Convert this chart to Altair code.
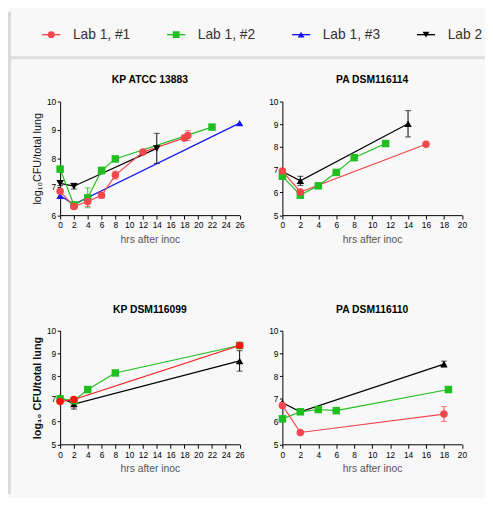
import altair as alt
import pandas as pd

SERIES = ["Lab 1, #1", "Lab 1, #2", "Lab 1, #3", "Lab 2"]
RED = "#f2474d"
RED_BRIGHT = "#ff1414"
GREEN = "#1fbf1f"
BLUE = "#1414ff"
BLACK = "#000000"

# ---- KP ATCC 13883 ----
kpa_r_x = [0, 2, 4, 6, 8, 12, 18, 18.5]
kpa_r_y = [6.84, 6.30, 6.48, 6.70, 7.41, 8.22, 8.72, 8.80]
kpa_r_e = [0.06, 0.05, 0.18, 0.10, 0.14, 0.05, 0.10, 0.17]
kpa_g_x = [0, 2, 4, 6, 8, 22]
kpa_g_y = [7.62, 6.36, 6.61, 7.57, 7.98, 9.10]
kpa_g_e = [0.05, 0.05, 0.35, 0.12, 0.05, 0.0]
kpa_b_x = [0, 2, 26]
kpa_b_y = [6.68, 6.38, 9.24]
kpa_b_e = [0.0, 0.0, 0.0]
kpa_k_x = [0, 2, 14]
kpa_k_y = [7.12, 7.02, 8.35]
kpa_k_e = [0.08, 0.10, 0.53]

# ---- PA DSM116114 ----
pa4_r_x = [0, 2, 16]
pa4_r_y = [6.94, 6.02, 8.12]
pa4_r_e = [0.0, 0.0, 0.0]
pa4_g_x = [0, 2, 4, 6, 8, 11.5]
pa4_g_y = [6.71, 5.88, 6.29, 6.88, 7.53, 8.15]
pa4_g_e = [0.0, 0.0, 0.0, 0.0, 0.0, 0.0]
pa4_k_x = [0, 2, 14]
pa4_k_y = [6.92, 6.51, 9.02]
pa4_k_e = [0.0, 0.2, 0.58]

# ---- KP DSM116099 ----
kp9_g_x = [0, 2, 4, 8, 26]
kp9_g_y = [7.00, 6.92, 7.41, 8.14, 9.35]
kp9_g_e = [0.0, 0.0, 0.0, 0.0, 0.0]
kp9_r_x = [0, 2, 26]
kp9_r_y = [6.88, 6.97, 9.35]
kp9_r_e = [0.0, 0.0, 0.0]
kp9_k_x = [0, 2, 26]
kp9_k_y = [7.07, 6.77, 8.67]
kp9_k_e = [0.0, 0.22, 0.45]

# ---- PA DSM116110 ----
pa0_k_x = [0, 2, 18]
pa0_k_y = [6.83, 6.43, 8.53]
pa0_k_e = [0.0, 0.0, 0.13]
pa0_g_x = [0, 2, 4, 6, 18.5]
pa0_g_y = [6.12, 6.43, 6.53, 6.48, 7.41]
pa0_g_e = [0.0, 0.0, 0.0, 0.0, 0.0]
pa0_r_x = [0, 2, 18]
pa0_r_y = [6.71, 5.52, 6.33]
pa0_r_e = [0.0, 0.0, 0.33]

W = 182.5
H = 115.5


def panel(title, series_data, xmax, ymin, ytitle=None, ytitle_bold=False):
    rows = []
    for name, xs, ys, es, col, shp in series_data:
        for x, y, e in zip(xs, ys, es):
            rows.append(dict(series=name, x=x, y=y, lo=y - e, hi=y + e, e=e))
    df = pd.DataFrame(rows)
    names = [s[0] for s in series_data]
    colors = [s[4] for s in series_data]
    shapes = [s[5] for s in series_data]
    color = alt.Color("series:N", scale=alt.Scale(domain=names, range=colors), legend=None)
    shape = alt.Shape("series:N", scale=alt.Scale(domain=names, range=shapes), legend=None)
    xaxis = alt.Axis(values=list(range(0, xmax + 1, 2)), title="hrs after inoc", grid=False,
                     labelFontSize=8.5, labelColor="#000", titleFontSize=10.5,
                     titleFontWeight="normal", titleColor="#555", tickSize=4,
                     tickColor="#000", domainColor="#000", labelPadding=2,
                     titlePadding=5, labelOverlap=False, labelFlush=False)
    yargs = dict(values=list(range(ymin, 11)), grid=False, labelFontSize=8.5,
                 labelColor="#000", tickSize=3, tickColor="#000", domainColor="#000",
                 labelPadding=1.5, format="d", labelOverlap=False)
    if ytitle:
        yaxis = alt.Axis(title=ytitle, titleFontSize=11,
                         titleFontWeight="bold" if ytitle_bold else "normal",
                         titleColor="#111", titlePadding=4, **yargs)
    else:
        yaxis = alt.Axis(title=None, **yargs)
    xs_ = alt.Scale(domain=[0, xmax], nice=False)
    ys_ = alt.Scale(domain=[ymin, 10], nice=False)
    xenc = alt.X("x:Q", scale=xs_, axis=xaxis)
    base = alt.Chart(df)
    line = base.mark_line(strokeWidth=1.2).encode(
        x=xenc, y=alt.Y("y:Q", scale=ys_, axis=yaxis), color=color)
    err = base.transform_filter("datum.e > 0")
    bar = err.mark_rule(strokeWidth=1).encode(
        x=xenc, y=alt.Y("lo:Q", scale=ys_, axis=yaxis), y2="hi:Q", color=color)
    cap_lo = err.mark_tick(orient="horizontal", size=6, thickness=1).encode(
        x=xenc, y=alt.Y("lo:Q", scale=ys_, axis=yaxis), color=color)
    cap_hi = err.mark_tick(orient="horizontal", size=6, thickness=1).encode(
        x=xenc, y=alt.Y("hi:Q", scale=ys_, axis=yaxis), color=color)
    pts = base.mark_point(filled=True, size=58, opacity=1).encode(
        x=xenc, y=alt.Y("y:Q", scale=ys_, axis=yaxis), color=color, shape=shape)
    return alt.layer(line, bar, cap_lo, cap_hi, pts).properties(
        width=W, height=H,
        title=alt.TitleParams(title, fontSize=10.5, fontWeight="bold", color="#000", offset=12))


tl = panel("KP ATCC 13883", [
    ("Lab 2", kpa_k_x, kpa_k_y, kpa_k_e, BLACK, "triangle-down"),
    ("Lab 1, #3", kpa_b_x, kpa_b_y, kpa_b_e, BLUE, "triangle-up"),
    ("Lab 1, #2", kpa_g_x, kpa_g_y, kpa_g_e, GREEN, "square"),
    ("Lab 1, #1", kpa_r_x, kpa_r_y, kpa_r_e, RED, "circle"),
], 26, 6, ytitle="log\u2081\u2080CFU/total lung")

tr = panel("PA DSM116114", [
    ("Lab 2", pa4_k_x, pa4_k_y, pa4_k_e, BLACK, "triangle-up"),
    ("Lab 1, #2", pa4_g_x, pa4_g_y, pa4_g_e, GREEN, "square"),
    ("Lab 1, #1", pa4_r_x, pa4_r_y, pa4_r_e, RED, "circle"),
], 20, 5)

bl = panel("KP DSM116099", [
    ("Lab 2", kp9_k_x, kp9_k_y, kp9_k_e, BLACK, "triangle-up"),
    ("Lab 1, #2", kp9_g_x, kp9_g_y, kp9_g_e, GREEN, "square"),
    ("Lab 1, #1", kp9_r_x, kp9_r_y, kp9_r_e, RED_BRIGHT, "circle"),
], 26, 5, ytitle="log\u2081\u2080 CFU/total lung", ytitle_bold=True)

br = panel("PA DSM116110", [
    ("Lab 2", pa0_k_x, pa0_k_y, pa0_k_e, BLACK, "triangle-up"),
    ("Lab 1, #2", pa0_g_x, pa0_g_y, pa0_g_e, GREEN, "square"),
    ("Lab 1, #1", pa0_r_x, pa0_r_y, pa0_r_e, RED, "circle"),
], 20, 5)

# ---- legend strip ----
leg_df = pd.DataFrame({"series": SERIES})
lx = alt.X("series:N", scale=alt.Scale(type="point", domain=SERIES, range=[-9, 372], padding=0),
           axis=None)
lcolor = alt.Color("series:N", scale=alt.Scale(domain=SERIES, range=[RED, GREEN, BLUE, BLACK]),
                   legend=None)
lshape = alt.Shape("series:N", scale=alt.Scale(domain=SERIES,
                   range=["circle", "square", "triangle-up", "triangle-down"]), legend=None)
lbase = alt.Chart(leg_df)
lline = lbase.mark_point(shape="stroke", size=340, strokeWidth=1.4, filled=False, opacity=1).encode(
    x=lx, color=lcolor)
lmark = lbase.mark_point(filled=True, size=48, opacity=1).encode(x=lx, color=lcolor, shape=lshape)
ltext = lbase.mark_text(align="left", baseline="middle", dx=22, fontSize=14, color="#333").encode(
    x=lx, text="series:N")
deco_df = pd.DataFrame({"part": ["band"]})
strip = alt.Chart(deco_df).mark_rect(color="#d9dadb").encode(
    x=alt.value(-53), x2=alt.value(-50), y=alt.value(0), y2=alt.value(490))
sep = alt.Chart(deco_df).mark_rect(color="#dcdddd").encode(
    x=alt.value(-50), x2=alt.value(432), y=alt.value(45), y2=alt.value(48))
legend = alt.layer(strip, sep, lline, lmark, ltext).properties(width=W, height=46)

grid = alt.concat(tl, tr, bl, br, columns=2, spacing={"row": 117, "column": 43},
                  bounds="flush").resolve_scale(
    x="independent", y="independent", color="independent", shape="independent")

chart = alt.vconcat(legend, grid, spacing=45, bounds="flush").resolve_scale(
    x="independent", y="independent", color="independent", shape="independent"
).properties(padding=0, background="#f8f8f8").configure(
    font="Liberation Sans"
).configure_view(stroke="transparent", strokeWidth=0).configure_axis(labelOverlap=False)

chart.save("out.html", embed_options={"renderer": "svg", "actions": False})
